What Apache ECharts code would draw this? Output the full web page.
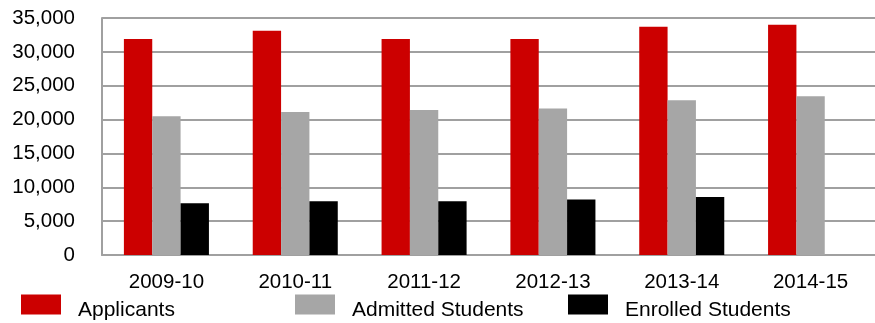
<!DOCTYPE html>
<html>
<head>
<meta charset="utf-8">
<script src="https://cdn.jsdelivr.net/npm/echarts@6/dist/echarts.min.js"></script>
<style>
html,body{margin:0;padding:0;background:#fff;}
#chart{width:875px;height:323px;}
</style>
</head>
<body>
<div id="chart"></div>
<script>
var categories = ['2009-10', '2010-11', '2011-12', '2012-13', '2013-14', '2014-15'];
var applicants = [31900, 33100, 31900, 31900, 33700, 34000];
var admitted = [20500, 21100, 21400, 21650, 22850, 23450];
var enrolled = [7650, 7950, 7950, 8200, 8550, null];
var yTicks = [0, 5000, 10000, 15000, 20000, 25000, 30000, 35000];

var chart = echarts.init(document.getElementById('chart'), null, {renderer: 'canvas'});
var font = 'Liberation Sans, Arial, sans-serif';
function legendAt(name, left) {
  return {
    data: [name], left: left, top: 287, itemWidth: 40, itemHeight: 20,
    icon: 'rect', selectedMode: false,
    formatter: function (n) { return '{s|}\n{t|' + n + '}'; },
    textStyle: {fontFamily: font, fontSize: 21, color: '#000', padding: [0, 0, 0, 12],
      rich: {s: {lineHeight: 12, fontSize: 1}, t: {fontFamily: font, fontSize: 21, lineHeight: 24, color: '#000'}}}
  };
}
chart.setOption({
  animation: false,
  grid: {left: 102, right: -3, top: 18, bottom: 68, containLabel: false},
  legend: [legendAt('Applicants', 16), legendAt('Admitted Students', 290), legendAt('Enrolled Students', 563)],
  xAxis: {
    type: 'category', data: categories,
    axisLine: {lineStyle: {color: '#A0A0A0', width: 2}},
    axisTick: {show: false},
    axisLabel: {fontFamily: font, fontSize: 20.5, color: '#000', margin: 17}
  },
  yAxis: {
    type: 'value', min: 0, max: 35000, interval: 5000,
    axisLine: {show: true, lineStyle: {color: '#A0A0A0', width: 2}},
    axisTick: {show: false},
    splitLine: {lineStyle: {color: '#A0A0A0', width: 2}},
    axisLabel: {fontFamily: font, fontSize: 20.5, color: '#000', margin: 27,
      formatter: function (v) { return yTicks.indexOf(v) >= 0 ? v.toLocaleString('en-US') : ''; }}
  },
  series: [
    {name: 'Applicants', type: 'bar', data: applicants, itemStyle: {color: '#CC0000'}, barGap: '0%', barCategoryGap: '34%'},
    {name: 'Admitted Students', type: 'bar', data: admitted, itemStyle: {color: '#A6A6A6'}},
    {name: 'Enrolled Students', type: 'bar', data: enrolled, itemStyle: {color: '#000000'}}
  ]
});
</script>
</body>
</html>
